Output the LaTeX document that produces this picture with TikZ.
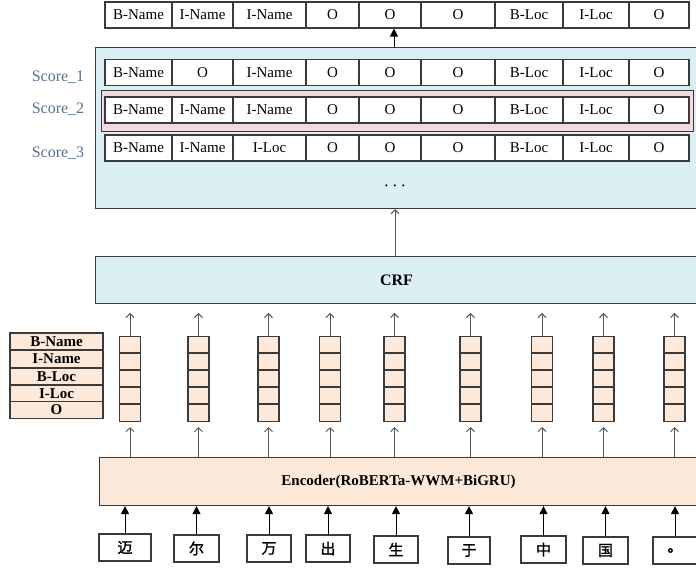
\documentclass[tikz,border=0pt]{standalone}
\usepackage{fontspec}
\setmainfont{Liberation Serif}
\newfontfamily\cjk[FakeBold=1.5]{Noto Sans CJK SC}
\usetikzlibrary{arrows.meta}
\definecolor{lblue}{HTML}{DAEEF3}
\definecolor{peach}{HTML}{FDE9D9}
\definecolor{pinkhl}{HTML}{F2DCDB}
\definecolor{edge}{HTML}{3A3A3A}
\definecolor{arr}{HTML}{555555}
\definecolor{scorec}{HTML}{56708C}
\begin{document}
\begin{tikzpicture}[x=1pt,y=-1pt,
  cell/.style={draw=edge, line width=1.1pt, fill=white, inner sep=0pt, minimum height=26pt, font=\fontsize{15}{18}\selectfont},
  bigbox/.style={draw=edge, line width=1.1pt, inner sep=0pt, anchor=north west},
  vec/.style={draw=edge, line width=1.1pt, fill=peach, inner sep=0pt, minimum width=21pt, minimum height=85pt},
  lab/.style={draw=edge, line width=1.1pt, fill=peach, inner sep=0pt, minimum width=93pt, minimum height=17pt, font=\fontsize{15}{16}\selectfont\bfseries},
  chbox/.style={draw=edge, line width=1.1pt, fill=white, inner sep=0pt, minimum height=27pt, font=\cjk\fontsize{15}{16}\selectfont},
  scorelab/.style={text=scorec, font=\fontsize{16}{18}\selectfont},
  openarr/.style={draw=arr, line width=1pt, -{Straight Barb[width=8pt,length=4pt]}},
  fillarr/.style={draw=black, line width=1pt, -{Triangle[width=8pt,length=8pt]}}
]
\useasboundingbox (0,0) rectangle (696,570);

% top output row
\foreach \l/\r/\t [count=\i] in {105/172/B-Name,172/233/I-Name,233/306/I-Name,306/359/O,359/421/O,421/495/O,495/563/B-Loc,563/629/I-Loc,629/689/O}
  \node[cell, minimum width={(\r-\l)*1pt}] (t\i) at ({(\l+\r)/2},15) {\t};

% score box
\node[bigbox, fill=lblue, minimum width=602pt, minimum height=161pt] (sbox) at (95,47) {};
\node[bigbox, fill=pinkhl, minimum width=592pt, minimum height=41pt] (phl) at (101,90) {};

\foreach \l/\r/\t [count=\i] in {105/172/B-Name,172/233/O,233/306/I-Name,306/359/O,359/421/O,421/495/O,495/563/B-Loc,563/629/I-Loc,629/689/O}
  \node[cell, minimum width={(\r-\l)*1pt}] (sa\i) at ({(\l+\r)/2},72.5) {\t};
\foreach \l/\r/\t [count=\i] in {105/172/B-Name,172/233/I-Name,233/306/I-Name,306/359/O,359/421/O,421/495/O,495/563/B-Loc,563/629/I-Loc,629/689/O}
  \node[cell, minimum width={(\r-\l)*1pt}] (sb\i) at ({(\l+\r)/2},110) {\t};
\foreach \l/\r/\t [count=\i] in {105/172/B-Name,172/233/I-Name,233/306/I-Loc,306/359/O,359/421/O,421/495/O,495/563/B-Loc,563/629/I-Loc,629/689/O}
  \node[cell, minimum width={(\r-\l)*1pt}] (sc\i) at ({(\l+\r)/2},148) {\t};

\node[scorelab] (s1) at (58,77) {Score\_1};
\node[scorelab] (s2) at (58,109) {Score\_2};
\node[scorelab] (s3) at (58,153) {Score\_3};

\node[text=black, font=\fontsize{17}{18}\selectfont] (dots) at (395,188) {·\,·\,·};

\coordinate (a1) at (394,47);
\draw[fillarr] (a1) -- (a1 |- t5.south);

% CRF
\node[bigbox, fill=lblue, minimum width=602pt, minimum height=47pt, font=\fontsize{16}{18}\selectfont\bfseries] (crf) at (95,256) {CRF};
\draw[openarr] (crf.north -| dots) -- (dots |- sbox.south);

% label table
\foreach \t/\y [count=\i] in {B-Name/341.5,I-Name/359,B-Loc/376.5,I-Loc/393.5,O/410}
  \node[lab] (lab\i) at (56.5,\y) {\t};

% encoder
\node[bigbox, fill=peach, minimum width=598pt, minimum height=48pt, font=\fontsize{15}{18}\selectfont\bfseries] (enc) at (99,457) {Encoder(RoBERTa-WWM+BiGRU)};

% vectors
\foreach \x [count=\i] in {130,198.5,268.5,330,394.5,470.5,542,603.5,674.5} {
  \node[vec] (v\i) at (\x,379) {};
  \foreach \k in {1,...,4}
    \draw[edge, line width=1.1pt] (v\i.north west) ++(0,17*\k) -- ++(21,0);
  \draw[openarr] (v\i.north) -- ++(0,-23);
  \draw[openarr] (v\i |- enc.north) -- ++(0,-30);
}

% characters
\foreach \l/\r/\tp/\c [count=\i] in {99/151/534/迈,174/219/535/尔,247/291/535/万,306/350/535/出,374/418/536/生,448/490/537/于,521/566/536/中,583/628/537/国,653/697/537/。} {
  \node[chbox, minimum width={(\r-\l)*1pt}] (ch\i) at ({(\l+\r)/2},{\tp+13.5}) {\c};
  \draw[fillarr] (ch\i) -- (ch\i |- enc.south);
}
\end{tikzpicture}
\end{document}
